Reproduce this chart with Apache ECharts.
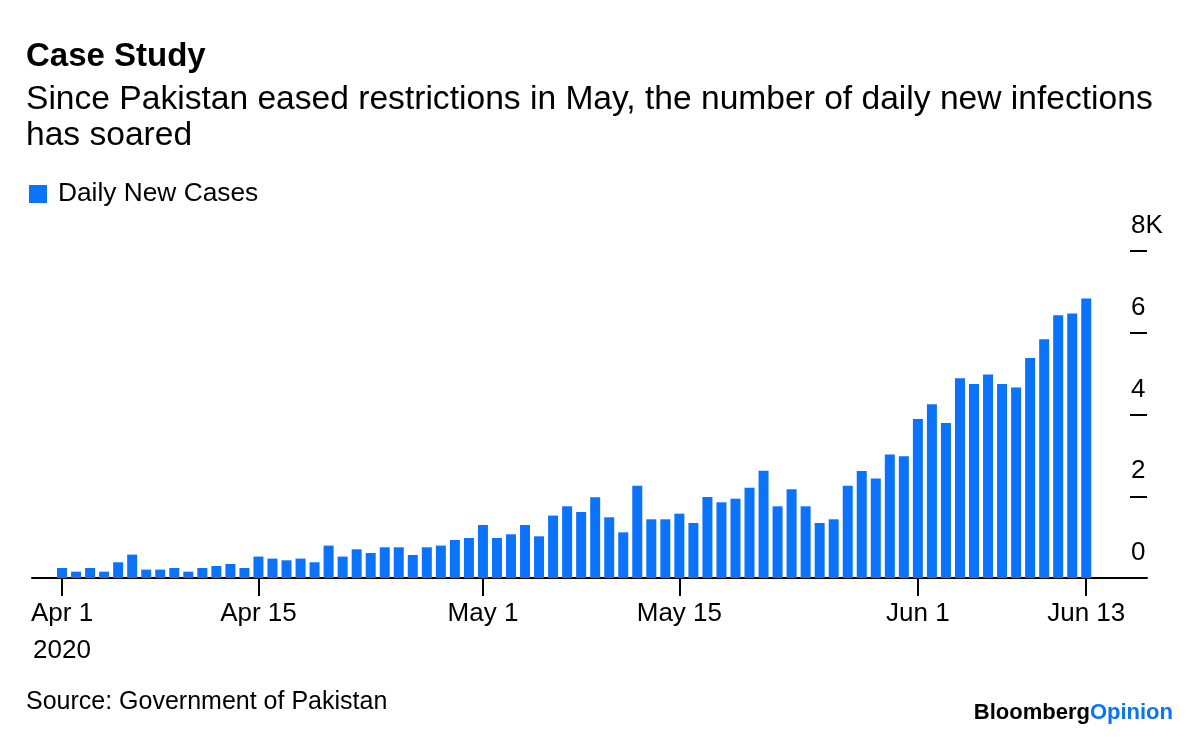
<!DOCTYPE html>
<html>
<head>
<meta charset="utf-8">
<script src="https://cdn.jsdelivr.net/npm/echarts@6/dist/echarts.min.js"></script>
<style>
  html, body { margin: 0; padding: 0; background: #fff; }
  #chart { width: 1200px; height: 737px; }
</style>
</head>
<body>
<div id="chart"></div>
<script>
// ---- Data ----
const dates = [
  'Apr 1','Apr 2','Apr 3','Apr 4','Apr 5','Apr 6','Apr 7','Apr 8','Apr 9','Apr 10',
  'Apr 11','Apr 12','Apr 13','Apr 14','Apr 15','Apr 16','Apr 17','Apr 18','Apr 19','Apr 20',
  'Apr 21','Apr 22','Apr 23','Apr 24','Apr 25','Apr 26','Apr 27','Apr 28','Apr 29','Apr 30',
  'May 1','May 2','May 3','May 4','May 5','May 6','May 7','May 8','May 9','May 10',
  'May 11','May 12','May 13','May 14','May 15','May 16','May 17','May 18','May 19','May 20',
  'May 21','May 22','May 23','May 24','May 25','May 26','May 27','May 28','May 29','May 30',
  'May 31','Jun 1','Jun 2','Jun 3','Jun 4','Jun 5','Jun 6','Jun 7','Jun 8','Jun 9',
  'Jun 10','Jun 11','Jun 12','Jun 13'
];
const dailyNewCases = [
  245,155,245,155,385,572,205,205,245,155,245,294,343,245,524,475,433,475,385,793,
  524,702,612,751,751,563,751,793,930,979,1297,979,1069,1297,1020,1527,1754,1615,1975,
  1485,1117,2259,1436,1436,1574,1346,1982,1851,1940,2210,2626,1754,2170,1754,1346,1436,2259,2615,
  2432,3019,2977,3890,4250,3792,4886,4746,4976,4746,4658,5382,5840,6427,6468,6836
];
const tickDates = ['Apr 1','Apr 15','May 1','May 15','Jun 1','Jun 13'];
const tickLabels = ['Apr 1\n2020','Apr 15','May 1','May 15','Jun 1','Jun 13'];
const yTickLabels = { 0: '0', 2000: '2', 4000: '4', 6000: '6', 8000: '8K' };

const BLUE = '#0b73fa';
const FONT = '"Liberation Sans", Arial, Helvetica, sans-serif';

const tickPositions = tickDates.map(d => dates.indexOf(d));
const seriesData = dailyNewCases.map((v, i) => [i, v]);

const chart = echarts.init(document.getElementById('chart'), null, { renderer: 'canvas' });
chart.setOption({
  backgroundColor: '#ffffff',
  animation: false,
  textStyle: { fontFamily: FONT, color: '#000' },
  title: [
    { text: 'Case Study', left: 26, top: 40, padding: 0,
      textStyle: { fontFamily: FONT, fontSize: 33, fontWeight: 'bold', color: '#000' } },
    { text: 'Since Pakistan eased restrictions in May, the number of daily new infections\nhas soared',
      left: 26, top: 82, padding: 0,
      textStyle: { fontFamily: FONT, fontSize: 33.6, fontWeight: 'normal', color: '#000', lineHeight: 36 } },
    { text: 'Source: Government of Pakistan', left: 26, top: 690, padding: 0,
      textStyle: { fontFamily: FONT, fontSize: 25, fontWeight: 'normal', color: '#000' } },
    { text: '{a|Bloomberg}{b|Opinion}', right: 27, top: 702, padding: 0,
      textStyle: { rich: {
        a: { fontFamily: FONT, fontSize: 22, fontWeight: 'bold', color: '#000' },
        b: { fontFamily: FONT, fontSize: 22, fontWeight: 'bold', color: BLUE }
      } } }
  ],
  legend: {
    left: 29, top: 181, padding: 0,
    icon: 'rect', itemWidth: 18, itemHeight: 18, itemGap: 10, itemStyle: { borderWidth: 0 },
    textStyle: { fontFamily: FONT, fontSize: 26.3, color: '#000', padding: [0, 0, 0, 6] },
    data: ['Daily New Cases']
  },
  grid: { left: 32, right: 53, top: 251, bottom: 159, containLabel: false },
  xAxis: {
    type: 'value',
    min: -2.14, max: 77.33,
    axisLine: { show: true, onZero: false, lineStyle: { color: '#000', width: 2 } },
    axisTick: { show: true, length: 18, lineStyle: { color: '#000', width: 2 }, customValues: tickPositions },
    axisLabel: {
      show: true, customValues: tickPositions, margin: 17,
      fontFamily: FONT, fontSize: 26, color: '#000', lineHeight: 37,
      formatter: function (v) { const k = tickPositions.indexOf(Math.round(v)); return k >= 0 ? tickLabels[k] : ''; }
    },
    splitLine: { show: false }
  },
  yAxis: {
    type: 'value', position: 'right',
    min: 0, max: 8000, interval: 2000,
    axisLine: { show: false, onZero: false },
    axisTick: { show: true, inside: true, length: 17, lineStyle: { color: '#000', width: 2 } },
    axisLabel: {
      show: true, margin: -16, align: 'left', verticalAlign: 'bottom',
      fontFamily: FONT, fontSize: 26, color: '#000', lineHeight: 26, padding: [0, 0, 12, 0],
      formatter: function (v) { return yTickLabels[v] !== undefined ? yTickLabels[v] : ''; }
    },
    splitLine: { show: false }
  },
  series: [{
    name: 'Daily New Cases',
    type: 'bar',
    barWidth: 10,
    itemStyle: { color: BLUE },
    data: seriesData
  }]
});
</script>
</body>
</html>
